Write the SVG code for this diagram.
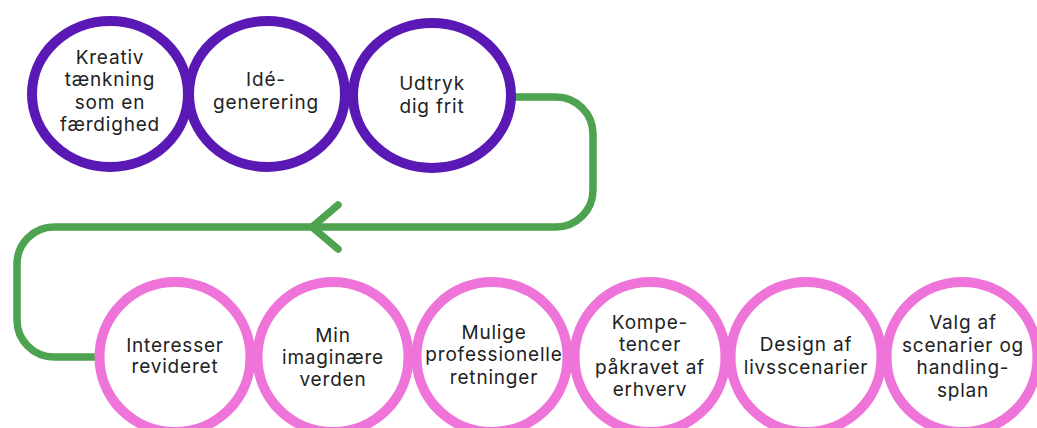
<svg xmlns="http://www.w3.org/2000/svg" width="1037" height="428" viewBox="0 0 1037 428">
  <style>
    .top { fill: #ffffff; stroke: #5A18B5; stroke-width: 10; }
    .bot { fill: #ffffff; stroke: #EE74D9; stroke-width: 10; }
    .lbl { font-family: "Inter", "DejaVu Sans", "Liberation Sans", sans-serif; font-size: 19px; letter-spacing: 0.8px; fill: #222222; text-anchor: middle; }
    .conn { fill: none; stroke: #4DA34F; stroke-width: 7.5; stroke-linecap: round; stroke-linejoin: round; }
  </style>
  <defs>
    <marker id="chev" markerUnits="userSpaceOnUse" viewBox="-40 -40 80 80" markerWidth="80" markerHeight="80" refX="0" refY="0" orient="auto" overflow="visible">
      <polyline points="-26,-22 0,0 -26,22" fill="none" stroke="#4DA34F" stroke-width="7.5" stroke-linecap="round" stroke-linejoin="round"/>
    </marker>
  </defs>
  <rect x="0" y="0" width="1037" height="428" fill="#ffffff"/>

  <g id="connectors">
    <path class="conn" d="M 510 97 L 556 97 A 37 37 0 0 1 593 134 L 593 190 A 37 37 0 0 1 556 227 L 312 227" marker-end="url(#chev)"/>
    <path class="conn" d="M 312 227 L 54 227 A 37 37 0 0 0 17 264 L 17 320 A 37 37 0 0 0 54 357 L 100 357"/>
  </g>

  <g id="node-kreativ">
    <ellipse class="top" cx="110" cy="94" rx="78" ry="73"/>
    <text class="lbl" x="110" y="63.5">Kreativ</text>
    <text class="lbl" x="110" y="86">tænkning</text>
    <text class="lbl" x="110" y="108.5">som en</text>
    <text class="lbl" x="110" y="131">færdighed</text>
  </g>
  <g id="node-ide">
    <ellipse class="top" cx="267" cy="94" rx="78" ry="73"/>
    <text class="lbl" x="266" y="86">Idé-</text>
    <text class="lbl" x="266" y="108.5">generering</text>
  </g>
  <g id="node-udtryk">
    <ellipse class="top" cx="432" cy="95.5" rx="79" ry="72.5"/>
    <text class="lbl" x="432" y="90">Udtryk</text>
    <text class="lbl" x="432" y="113">dig frit</text>
  </g>

  <g id="node-interesser">
    <ellipse class="bot" cx="175" cy="357" rx="75.5" ry="75"/>
    <text class="lbl" x="175" y="352">Interesser</text>
    <text class="lbl" x="175" y="373">revideret</text>
  </g>
  <g id="node-min">
    <ellipse class="bot" cx="333" cy="357" rx="75.5" ry="75"/>
    <text class="lbl" x="333" y="341.5">Min</text>
    <text class="lbl" x="333" y="363.5">imaginære</text>
    <text class="lbl" x="333" y="385.5">verden</text>
  </g>
  <g id="node-mulige">
    <ellipse class="bot" cx="492" cy="357" rx="75.5" ry="75"/>
    <text class="lbl" x="494" y="338.5">Mulige</text>
    <text class="lbl" x="494" y="361">professionelle</text>
    <text class="lbl" x="494" y="383.5">retninger</text>
  </g>
  <g id="node-kompetencer">
    <ellipse class="bot" cx="650" cy="357" rx="75.5" ry="75"/>
    <text class="lbl" x="650" y="328.5">Kompe-</text>
    <text class="lbl" x="650" y="351">tencer</text>
    <text class="lbl" x="650" y="373.5">påkravet af</text>
    <text class="lbl" x="650" y="396">erhverv</text>
  </g>
  <g id="node-design">
    <ellipse class="bot" cx="806" cy="357" rx="75.5" ry="75"/>
    <text class="lbl" x="806" y="351">Design af</text>
    <text class="lbl" x="806" y="373.5">livsscenarier</text>
  </g>
  <g id="node-valg">
    <ellipse class="bot" cx="962" cy="357" rx="75.5" ry="75"/>
    <text class="lbl" x="963" y="329">Valg af</text>
    <text class="lbl" x="963" y="351.5">scenarier og</text>
    <text class="lbl" x="963" y="374">handling-</text>
    <text class="lbl" x="963" y="396.5">splan</text>
  </g>
</svg>
